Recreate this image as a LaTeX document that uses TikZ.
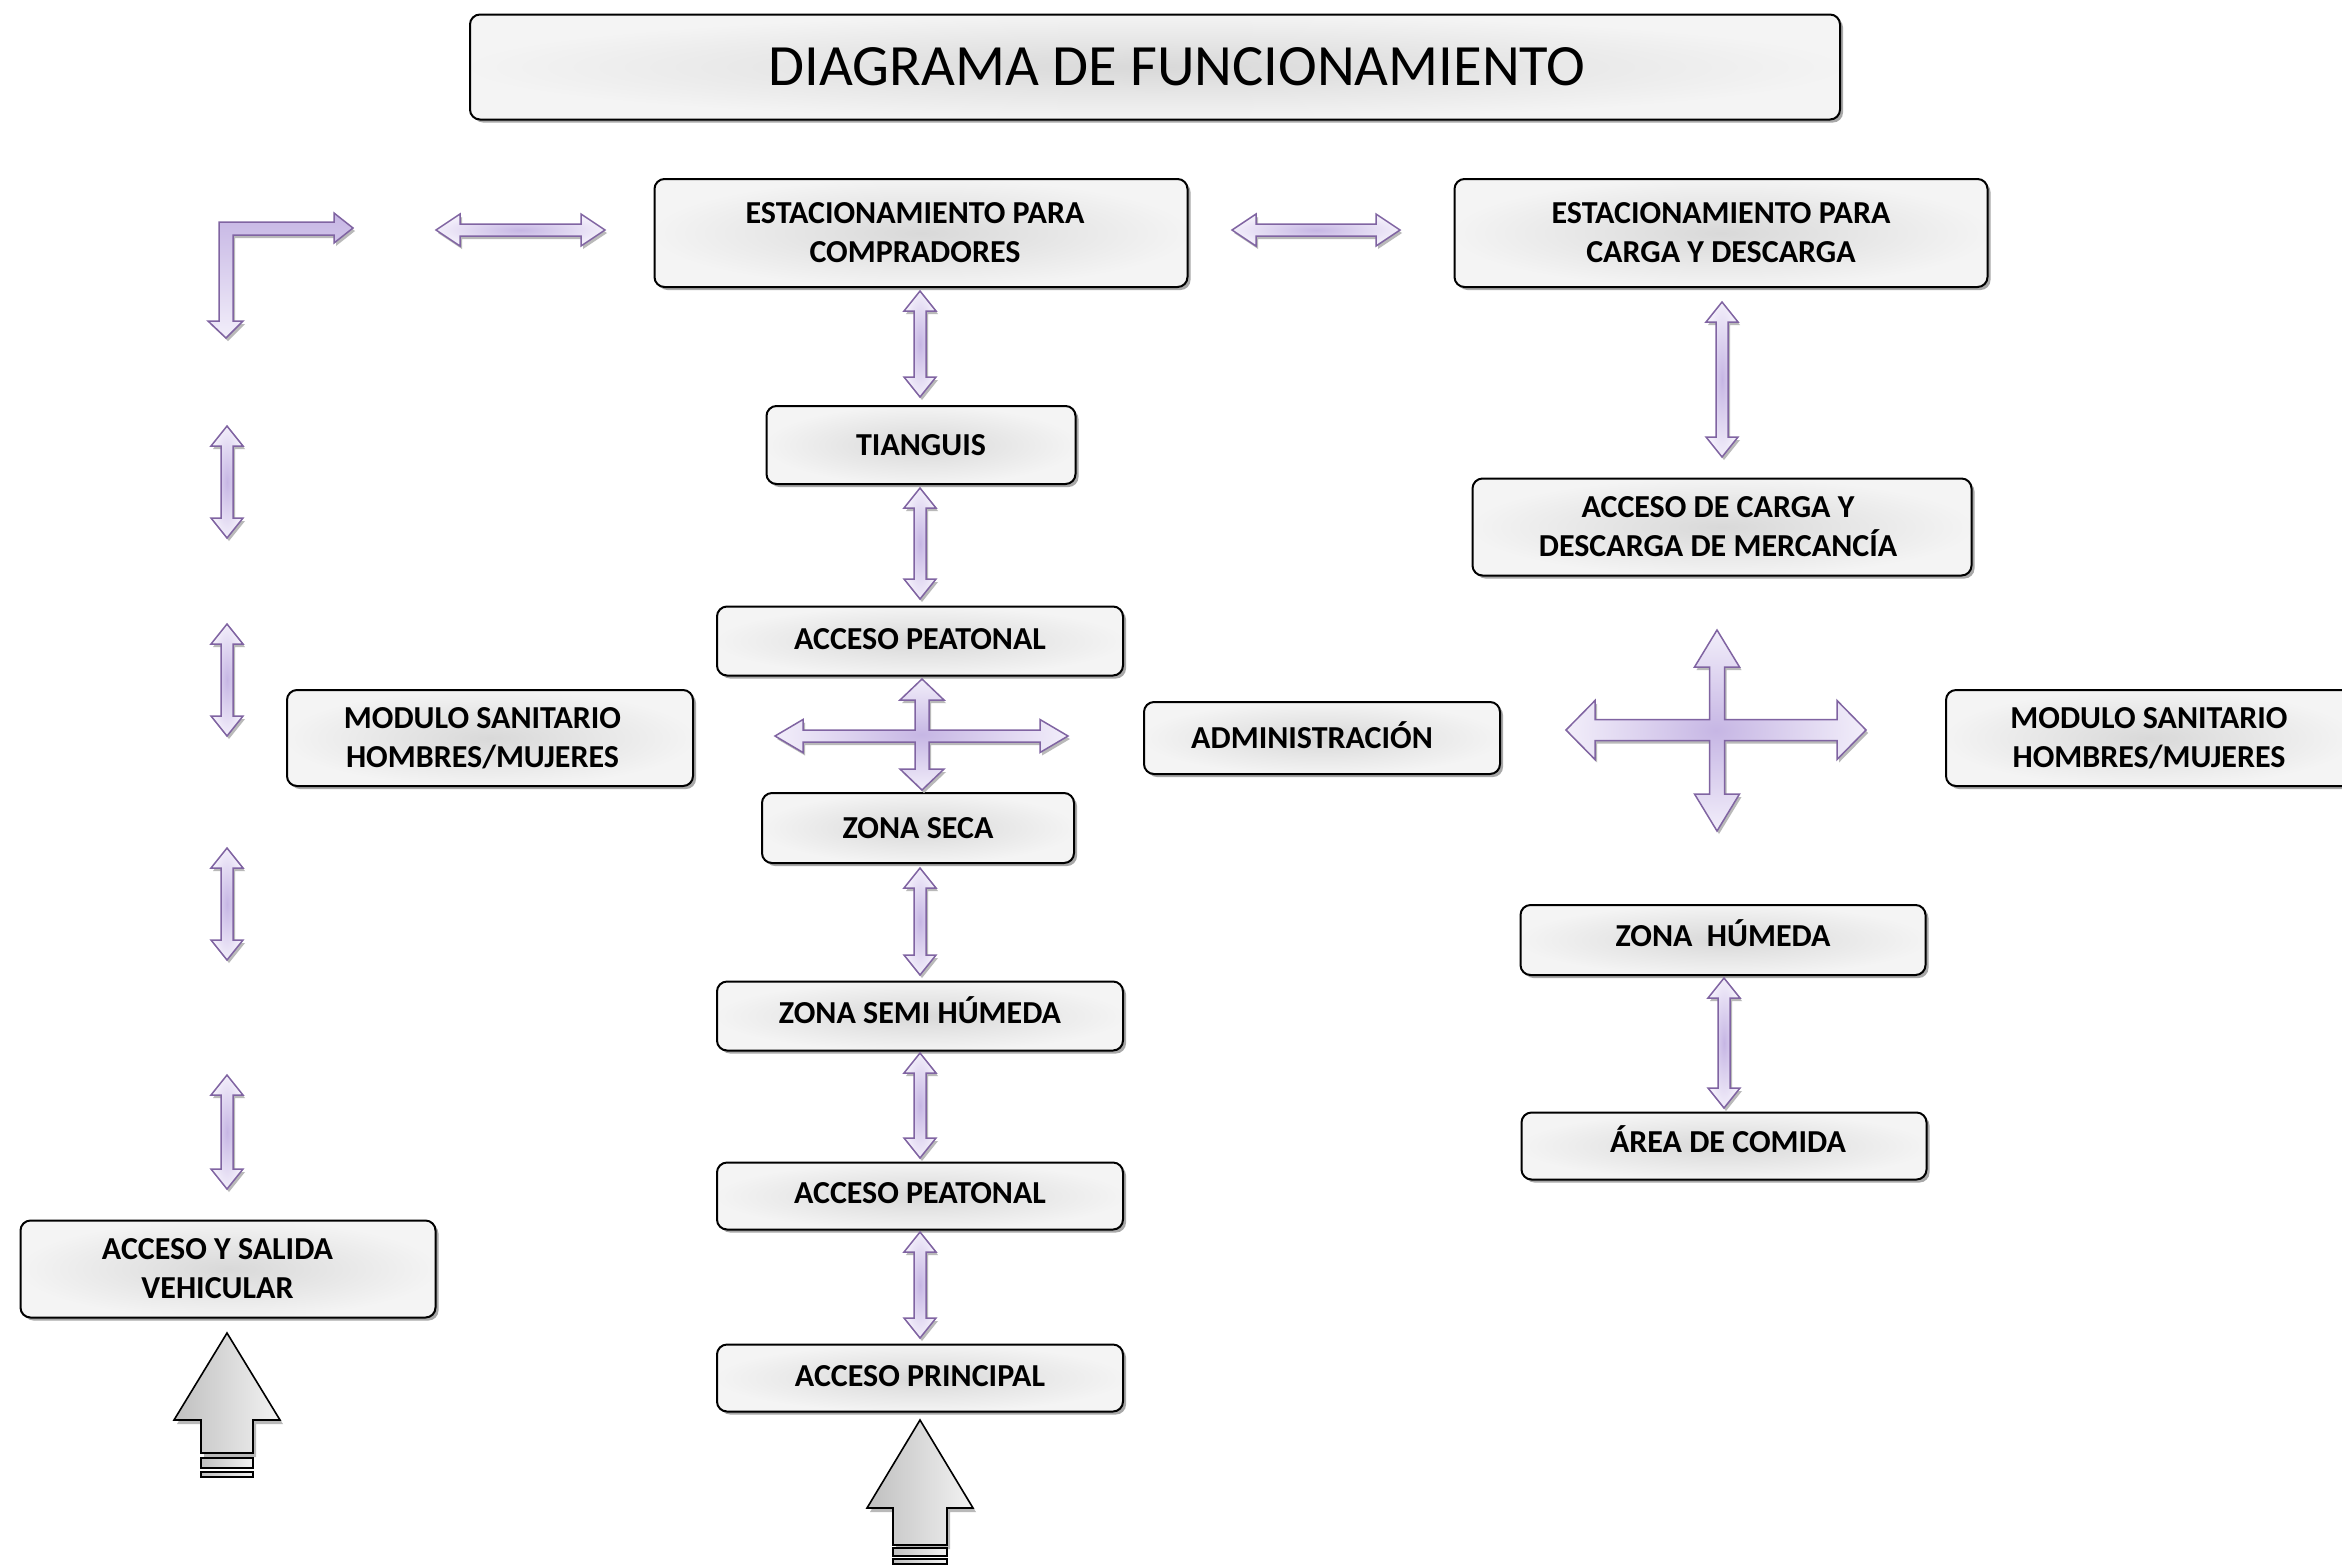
\documentclass[tikz,border=0pt]{standalone}
\usepackage{fontspec}
\setmainfont{Carlito}
\usetikzlibrary{shadows}
\definecolor{pline}{RGB}{128,100,162}
\definecolor{pdark}{RGB}{198,182,228}
\definecolor{plight}{RGB}{242,238,250}
\tikzset{
 box/.style={draw=black, line width=2pt, rounded corners=10pt, inner color=gray!30, outer color=gray!9,
   align=center, inner sep=0pt, font=\bfseries\fontsize{32}{39}\selectfont,
   drop shadow={shadow xshift=3pt, shadow yshift=-3pt, fill=gray!75, opacity=0.9}},
 parrow/.style={draw=pline, line width=1.5pt, inner color=pdark, outer color=plight, line join=miter},
 pshadow/.style={fill=gray!55},
 garrow/.style={draw=black, line width=1.6pt, left color=gray!50, right color=gray!10, line join=miter},
}
\newcommand\up[2]{\raisebox{#1}[\height][\depth]{#2}}
\newcommand\pshape[1]{\fill[pshadow,shift={(2,3)}] #1; \path[parrow] #1;}
\newcommand\dblv[3]{\pshape{(#1,#2) -- ++(16,20) -- ++(-10,0) -- (#1+6,#3-20) -- ++(10,0) -- (#1,#3) -- ++(-16,-20) -- ++(10,0) -- (#1-6,#2+20) -- ++(-10,0) -- cycle}}
\newcommand\dblh[3]{\pshape{(#2,#1) -- ++(24,-16) -- ++(0,10) -- (#3-24,#1-6) -- ++(0,-10) -- (#3,#1) -- ++(-24,16) -- ++(0,-10) -- (#2+24,#1+6) -- ++(0,10) -- cycle}}
\begin{document}
\begin{tikzpicture}[x=1pt,y=-1pt]
\useasboundingbox[fill=white] (0,0) rectangle (2342,1567);
% boxes
\node[box, minimum width=1370, minimum height=105, font=\fontsize{58.5}{70}\selectfont] (title) at (1155,67) {\hspace*{44pt}DIAGRAMA DE FUNCIONAMIENTO};
\node[box, minimum width=533, minimum height=108] (c1) at (921,233) {\hspace*{-12pt}ESTACIONAMIENTO PARA\\\hspace*{-12pt}COMPRADORES};
\node[box, minimum width=533, minimum height=108] (c2) at (1721,233) {ESTACIONAMIENTO PARA\\CARGA Y DESCARGA};
\node[box, minimum width=309, minimum height=78] (tian) at (921,445) {TIANGUIS};
\node[box, minimum width=406, minimum height=69] (ap1) at (920,641) {\up{2pt}{ACCESO PEATONAL}};
\node[box, minimum width=312, minimum height=70] (seca) at (918,828) {ZONA SECA};
\node[box, minimum width=406, minimum height=69] (semi) at (920,1016) {\up{6pt}{ZONA SEMI HÚMEDA}};
\node[box, minimum width=406, minimum height=67] (ap2) at (920,1196) {\up{3pt}{ACCESO PEATONAL}};
\node[box, minimum width=406, minimum height=67] (princ) at (920,1378) {\up{2pt}{ACCESO PRINCIPAL}};
\node[box, minimum width=406, minimum height=96] (ms1) at (490,738) {\hspace*{-15pt}MODULO SANITARIO\\\hspace*{-15pt}HOMBRES/MUJERES};
\node[box, minimum width=356, minimum height=72] (adm) at (1322,738) {\hspace*{-20pt}\up{3pt}{ADMINISTRACIÓN}};
\node[box, minimum width=406, minimum height=96] (ms2) at (2149,738) {MODULO SANITARIO\\HOMBRES/MUJERES};
\node[box, minimum width=499, minimum height=97] (acd) at (1722,527) {\hspace*{-8pt}ACCESO DE CARGA Y\\\hspace*{-8pt}DESCARGA DE MERCANCÍA};
\node[box, minimum width=405, minimum height=70] (hum) at (1723,940) {\up{7pt}{ZONA\ \ HÚMEDA}};
\node[box, minimum width=405, minimum height=67] (com) at (1724,1146) {\hspace*{8pt}\up{7pt}{ÁREA DE COMIDA}};
\node[box, minimum width=415, minimum height=97] (veh) at (228,1269) {\hspace*{-21pt}ACCESO Y SALIDA\\\hspace*{-21pt}VEHICULAR};
% vertical double arrows
\dblv{920}{291}{397}
\dblv{920}{488}{599}
\dblv{920}{868}{975}
\dblv{920}{1053}{1158}
\dblv{920}{1232}{1338}
\dblv{1722}{302}{457}
\dblv{1724}{978}{1108}
\dblv{227}{426}{538}
\dblv{227}{624}{736}
\dblv{227}{848}{960}
\dblv{227}{1075}{1189}
% horizontal double arrows
\dblh{230}{436}{605}
\dblh{230}{1232}{1400}
% L arrow
\fill[pshadow,shift={(2,3)}] (219,222) -- (334,222) -- (334,213) -- (353,228) -- (334,243) -- (334,235) -- (233,235) -- (233,321) -- (243,321) -- (226,338) -- (208,321) -- (219,321) -- cycle;
\path[draw=pline, line width=1.5pt, top color=pdark, bottom color=plight, line join=miter] (219,222) -- (334,222) -- (334,213) -- (353,228) -- (334,243) -- (334,235) -- (233,235) -- (233,321) -- (243,321) -- (226,338) -- (208,321) -- (219,321) -- cycle;
% middle cross
\pshape{(775,736) -- (803,719.5) -- (803,730) -- (915,730) -- (915,700) -- (900,700) -- (922,679) -- (944,700) -- (929,700) -- (929,730) -- (1040,730) -- (1040,719.5) -- (1068,736) -- (1040,752.5) -- (1040,742) -- (929,742) -- (929,769) -- (944,769) -- (922,790) -- (900,769) -- (915,769) -- (915,742) -- (803,742) -- (803,752.5) -- cycle}
% right cross
\pshape{(1566,730) -- (1595,700.5) -- (1595,719.5) -- (1709.5,719.5) -- (1709.5,667) -- (1694.5,667) -- (1717,630) -- (1739.5,667) -- (1724.5,667) -- (1724.5,719.5) -- (1837,719.5) -- (1837,700.5) -- (1866,730) -- (1837,759.5) -- (1837,740.5) -- (1724.5,740.5) -- (1724.5,794) -- (1739.5,794) -- (1717,831) -- (1694.5,794) -- (1709.5,794) -- (1709.5,740.5) -- (1595,740.5) -- (1595,759.5) -- cycle}
% gray up arrows
\fill[gray!55,shift={(3,4)}] (227,1333) -- (280,1420) -- (253,1420) -- (253,1453) -- (201,1453) -- (201,1420) -- (174,1420) -- cycle;
\path[garrow] (227,1333) -- (280,1420) -- (253,1420) -- (253,1453) -- (201,1453) -- (201,1420) -- (174,1420) -- cycle;
\path[garrow] (201,1458) rectangle (253,1468);
\path[garrow] (201,1472) rectangle (253,1477);
\fill[gray!55,shift={(3,4)}] (920,1420) -- (973,1508) -- (947,1508) -- (947,1545) -- (893,1545) -- (893,1508) -- (867,1508) -- cycle;
\path[garrow] (920,1420) -- (973,1508) -- (947,1508) -- (947,1545) -- (893,1545) -- (893,1508) -- (867,1508) -- cycle;
\path[garrow] (893,1548) rectangle (947,1556);
\path[garrow] (893,1559) rectangle (947,1564);
\end{tikzpicture}
\end{document}
